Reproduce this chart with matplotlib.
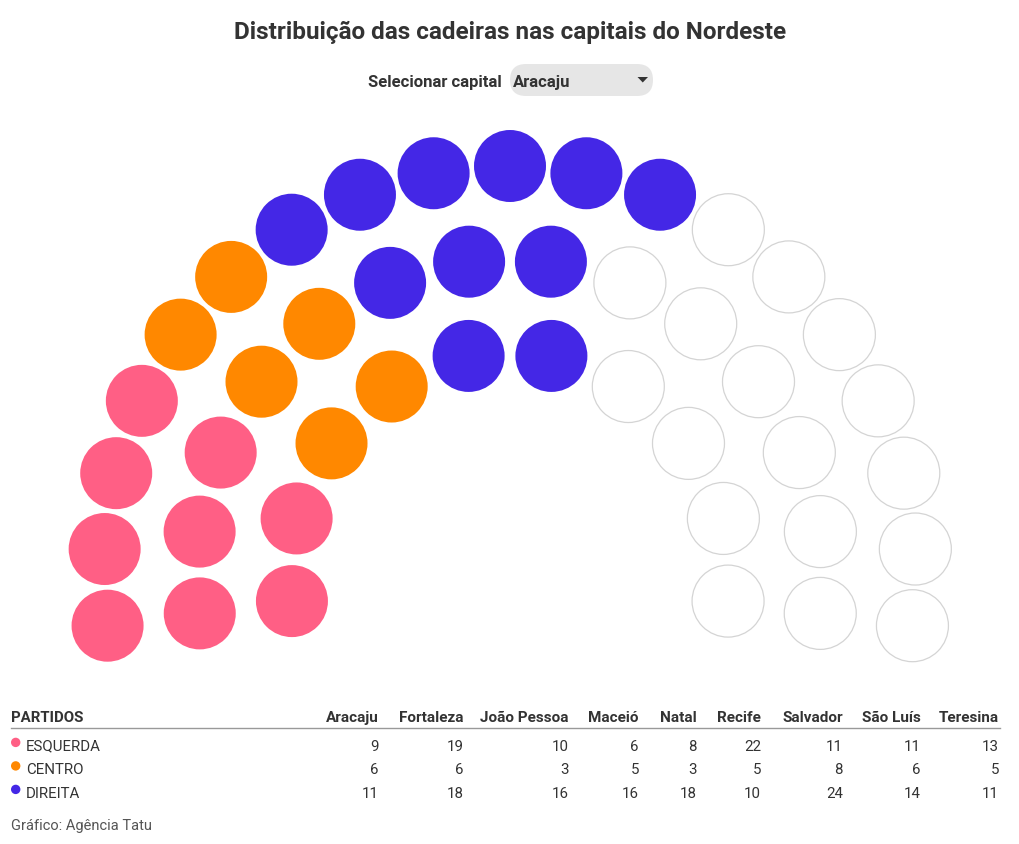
import math

import matplotlib
matplotlib.use("Agg")
import matplotlib.pyplot as plt
from matplotlib.patches import Circle, FancyBboxPatch, Polygon


TITLE = "Distribuição das cadeiras nas capitais do Nordeste"
SELECTED = "Aracaju"
CAPITAIS = ["Aracaju", "Fortaleza", "João Pessoa", "Maceió", "Natal",
            "Recife", "Salvador", "São Luís", "Teresina"]
PARTIDOS = ["ESQUERDA", "CENTRO", "DIREITA"]
ESQUERDA = [9, 19, 10, 6, 8, 22, 11, 11, 13]
CENTRO = [6, 6, 3, 5, 3, 5, 8, 6, 5]
DIREITA = [11, 18, 16, 16, 18, 10, 24, 14, 11]
CORES = ["#ff5f85", "#ff8800", "#4427e6"]
FONTE = "Gráfico: Agência Tatu"

TEXT = "#333333"
FONT = ["Roboto", "DejaVu Sans"]

# layout (pixels)
CX, CY = 510, 573
R_OUTER = 406
ROW_STEP = 93
N_ROWS = 3
SEAT_R = 36
OVERHANG = 7.6  # degrees below the horizontal at each end
COL_RIGHT = [379, 464, 569, 639, 697, 761, 843, 921, 999]


def seat_layout(total: int) -> list[tuple[float, float, float, float]]:
    radii = [R_OUTER - ROW_STEP * (N_ROWS - 1 - i) for i in range(N_ROWS)]
    share = [total * r / sum(radii) for r in radii]
    counts = [round(s) for s in share]
    counts[-1] += total - sum(counts)
    seats = []
    a0, a1 = 180 + OVERHANG, -OVERHANG
    for r, n in zip(radii, counts):
        for k in range(n):
            ang = a0 + (a1 - a0) * k / (n - 1)
            rad = math.radians(ang)
            seats.append((round(ang, 4), r, CX + r * math.cos(rad), CY - r * math.sin(rad)))
    # left to right; on equal angles the inner row comes first
    seats.sort(key=lambda s: (-s[0], s[1]))
    return seats


def main() -> None:
    plt.rcParams["font.family"] = FONT
    fig = plt.figure(figsize=(10.2, 8.45), dpi=100)
    ax = fig.add_axes([0, 0, 1, 1])
    ax.set_xlim(0, 1020)
    ax.set_ylim(845, 0)
    ax.axis("off")

    totals = [e + c + d for e, c, d in zip(ESQUERDA, CENTRO, DIREITA)]
    i = CAPITAIS.index(SELECTED)
    counts = [ESQUERDA[i], CENTRO[i], DIREITA[i]]
    colors = []
    for cor, n in zip(CORES, counts):
        colors += [cor] * n

    for k, (_, _, x, y) in enumerate(seat_layout(max(totals))):
        if k < len(colors):
            ax.add_patch(Circle((x, y), SEAT_R, fc=colors[k], ec="none"))
        else:
            ax.add_patch(Circle((x, y), SEAT_R, fc="white", ec="#d4d4d4", lw=0.9))

    ax.text(510, 39.5, TITLE, ha="center", va="baseline", fontsize=17.5,
            fontweight="bold", color=TEXT)

    # dropdown
    ax.text(502, 86.5, "Selecionar capital", ha="right", va="baseline", fontsize=12,
            fontweight="bold", color=TEXT)
    ax.add_patch(FancyBboxPatch((510, 65), 143, 32, boxstyle="round,pad=0,rounding_size=16",
                                fc="#e6e6e6", ec="none"))
    ax.text(513, 86.5, SELECTED, ha="left", va="baseline", fontsize=12,
            fontweight="bold", color=TEXT)
    ax.add_patch(Polygon([(637.5, 78), (648, 78), (642.75, 83.5)], closed=True,
                         fc=TEXT, ec="none"))

    # table
    ax.text(11, 722.3, "PARTIDOS", ha="left", va="baseline", fontsize=10.8,
            fontweight="bold", color=TEXT)
    for cap, xr in zip(CAPITAIS, COL_RIGHT):
        ax.text(xr, 722.3, cap, ha="right", va="baseline", fontsize=11,
                fontweight="bold", color=TEXT)
    ax.plot([11, 1000], [729.3, 729.3], color="#999999", lw=1)

    values = [ESQUERDA, CENTRO, DIREITA]
    for row, (nome, cor, vals) in enumerate(zip(PARTIDOS, CORES, values)):
        yb = 750.7 + row * 23.5
        ax.add_patch(Circle((15.7, yb - 7.3), 4.7, fc=cor, ec="none"))
        ax.text(26, yb, nome, ha="left", va="baseline", fontsize=10.8, color=TEXT)
        for v, xr in zip(vals, COL_RIGHT):
            ax.text(xr, yb, str(v), ha="right", va="baseline", fontsize=10.8, color=TEXT)

    ax.text(11, 830, FONTE, ha="left", va="baseline", fontsize=10.5, color="#555555")

    fig.savefig("out.png", dpi=100, facecolor="white")
    plt.close(fig)


if __name__ == "__main__":
    main()
